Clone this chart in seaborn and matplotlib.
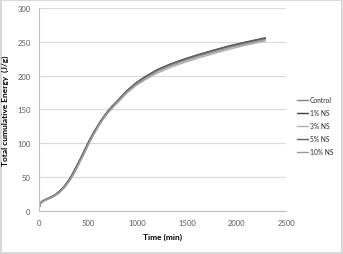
import numpy as np
import pandas as pd
import matplotlib
matplotlib.use("Agg")
import matplotlib.pyplot as plt
import seaborn as sns

# Values
time_min = [0, 5, 15, 30, 60, 107, 160, 208, 260, 309, 333, 370, 410, 460, 505, 560,
            612, 653, 700, 738, 800, 889, 980, 1075, 1200, 1327, 1450, 1597, 1750, 1935, 2100, 2290]
control = [0, 5, 10, 13, 15.5, 18.4, 22, 27.3, 35, 44.5, 50, 60, 71.7, 86, 100, 115,
           128, 137, 146, 152.5, 162, 176, 187.5, 197, 207.5, 215.5, 222, 229, 235.5, 243, 248.5, 254.5]
ns_1 = [0, 5.2, 10.3, 13.3, 15.8, 18.8, 22.5, 28, 36, 45.5, 51.5, 61.5, 73, 87.5, 101.5, 116.5,
        129, 138, 147, 153.5, 163, 177, 188.5, 198, 208.5, 216.5, 223, 230, 236.5, 244, 249.5, 255.5]
ns_3 = [0, 4.8, 9.6, 12.6, 15, 17.8, 21.5, 26.5, 34, 43.5, 49, 58.5, 70.5, 85, 99, 114,
        127, 136, 145, 151, 160.5, 174, 185, 194, 204, 212, 218.5, 225.5, 232, 239.5, 245.5, 251.5]
ns_5 = [0, 5.3, 10.5, 13.5, 16, 19, 23, 28.5, 36.5, 46.5, 52.5, 62.5, 74, 88.5, 102.5, 117,
        129.5, 138.5, 147.5, 154, 163.5, 177.5, 189, 198.5, 209, 217, 223.5, 230.5, 237, 244.5, 250, 256]
ns_10 = [0, 5, 10, 13, 15.3, 18.2, 22, 27, 35, 44, 50, 59.5, 71, 85.5, 99.5, 114.5,
         127.5, 136.5, 145.5, 152, 161.5, 175.5, 186.5, 196, 206.5, 214.5, 221, 228, 234.5, 242, 247.5, 253.5]

series_names = ["Control", "1% NS", "3% NS", "5% NS", "10% NS"]
series_values = [control, ns_1, ns_3, ns_5, ns_10]
series_colors = ["#7f7f7f", "#3f3f3f", "#b0b0b0", "#5f5f5f", "#9a9a9a"]

frames = []
for name, vals in zip(series_names, series_values):
    frames.append(pd.DataFrame({"Time (min)": time_min, "Energy": vals, "Series": name}))
df = pd.concat(frames, ignore_index=True)

sns.set_style("white")
plt.rcParams["font.family"] = ["Lato", "DejaVu Sans"]

fig = plt.figure(figsize=(3.43, 2.55), dpi=100)
fig.patch.set_edgecolor("#d9d9d9")
fig.patch.set_linewidth(1.5)
ax = fig.add_axes([0.113, 0.17, 0.721, 0.794])

sns.lineplot(data=df, x="Time (min)", y="Energy", hue="Series",
             palette=dict(zip(series_names, series_colors)),
             linewidth=1.1, ax=ax, legend=True)

ax.set_xlim(0, 2500)
ax.set_ylim(0, 300)
ax.set_xticks(np.arange(0, 2501, 500))
ax.set_yticks(np.arange(0, 301, 50))
ax.grid(axis="y", color="#d9d9d9", linewidth=0.8)
ax.grid(axis="x", visible=False)
for side in ["top", "right"]:
    ax.spines[side].set_visible(False)
for side in ["left", "bottom"]:
    ax.spines[side].set_color("#bfbfbf")
    ax.spines[side].set_linewidth(0.8)
ax.tick_params(axis="both", labelsize=5.5, colors="#595959", length=0, pad=6)

ax.set_xlabel("Time (min)", fontsize=6, fontweight="bold", color="black", labelpad=5)
ax.set_ylabel("Total cumulative Energy  (J/g)", fontsize=6, fontweight="bold", color="black", labelpad=6)

leg = ax.legend(loc="center left", bbox_to_anchor=(1.02, 0.42), frameon=False,
                fontsize=4.8, handlelength=1.6, handletextpad=0.3, labelspacing=0.9)
for line in leg.get_lines():
    line.set_linewidth(1.0)

fig.savefig("out.png", dpi=100)
